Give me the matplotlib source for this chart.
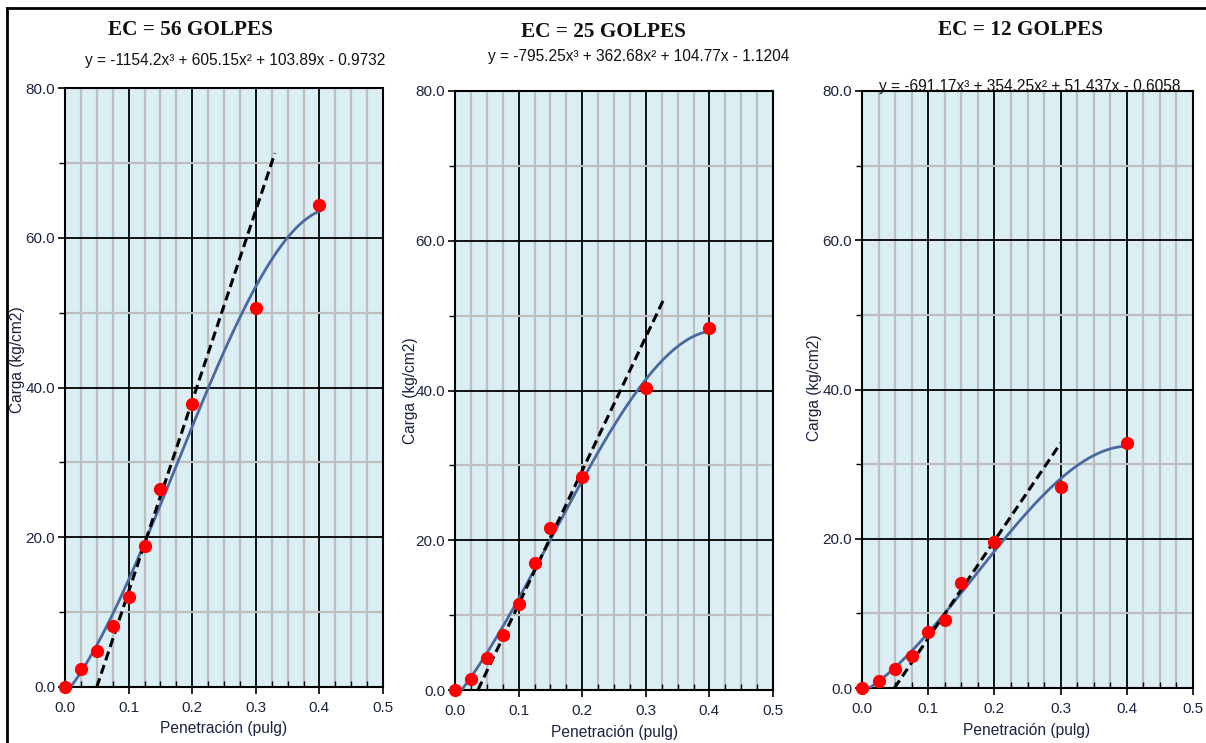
import numpy as np
import matplotlib
matplotlib.use('Agg')
import matplotlib.pyplot as plt
from matplotlib.lines import Line2D
from matplotlib.ticker import MultipleLocator, FormatStrFormatter

plt.rcParams['font.family'] = ['Liberation Sans', 'DejaVu Sans']

# datos de penetracion (pulg) y carga (kg/cm2)
pen = [0.0, 0.025, 0.05, 0.075, 0.1, 0.125, 0.15, 0.2, 0.3, 0.4]
carga_56 = [0.0, 2.4, 4.8, 8.1, 12.0, 18.8, 26.4, 37.8, 50.6, 64.4]
carga_25 = [0.0, 1.5, 4.3, 7.3, 11.5, 17.0, 21.6, 28.4, 40.3, 48.3]
carga_12 = [0.0, 0.9, 2.5, 4.3, 7.5, 9.1, 14.1, 19.6, 26.9, 32.8]

# coeficientes de la linea de tendencia (polinomio grado 3)
coef_56 = [-1154.2, 605.15, 103.89, -0.9732]
coef_25 = [-795.25, 362.68, 104.77, -1.1204]
coef_12 = [-691.17, 354.25, 51.437, -0.6058]

# recta de correccion (tangente)
tan_x_56 = [0.05, 0.33]; tan_y_56 = [0.0, 71.3]
tan_x_25 = [0.036, 0.33]; tan_y_25 = [0.0, 52.5]
tan_x_12 = [0.049, 0.30]; tan_y_12 = [0.0, 32.8]

titulos = ['EC = 56 GOLPES', 'EC = 25 GOLPES', 'EC = 12 GOLPES']
ecuaciones = ['y = -1154.2x³ + 605.15x² + 103.89x - 0.9732',
              'y = -795.25x³ + 362.68x² + 104.77x - 1.1204',
              'y = -691.17x³ + 354.25x² + 51.437x - 0.6058']

W, H = 1206, 743
fig = plt.figure(figsize=(W/100, H/100), dpi=100)

# posiciones en pixeles: left, right, top, bottom
cajas = [(65, 383, 88, 687), (455, 773, 91, 690), (862, 1193, 91, 688)]
tit_pos = [(190, 30), (603, 32), (1020, 30)]
eq_pos = [(235, 60), (639, 57), (1030, 87)]
xl_pos = [(224, 728), (615, 732), (1027, 730)]
yl_pos = [(18, 360), (410, 391), (814, 388)]

datos = [(carga_56, coef_56, tan_x_56, tan_y_56),
         (carga_25, coef_25, tan_x_25, tan_y_25),
         (carga_12, coef_12, tan_x_12, tan_y_12)]

txtcol = '#1c2340'
for i in range(3):
    l, r, t, b = cajas[i]
    ax = fig.add_axes([l/W, 1-b/H, (r-l)/W, (b-t)/H])
    ax.set_facecolor('#DAEEF3')
    carga, coef, tx, ty = datos[i]

    xx = np.linspace(0, 0.4, 200)
    ax.plot(xx, np.polyval(coef, xx), color='#4A69A0', lw=2, zorder=3)
    ax.plot(tx, ty, color='black', lw=2.2, ls=(0, (3, 1.6)), zorder=4)
    ax.plot(pen, carga, 'o', color='#FF0000', ms=8.5, zorder=5, clip_on=False)

    ax.set_xlim(0, 0.5)
    ax.set_ylim(0, 80)
    ax.xaxis.set_major_locator(MultipleLocator(0.1))
    ax.xaxis.set_minor_locator(MultipleLocator(0.025))
    ax.yaxis.set_major_locator(MultipleLocator(20))
    ax.yaxis.set_minor_locator(MultipleLocator(10))
    ax.xaxis.set_major_formatter(FormatStrFormatter('%.1f'))
    ax.yaxis.set_major_formatter(FormatStrFormatter('%.1f'))
    ax.grid(which='minor', color='#BEBEBE', lw=1.6)
    ax.grid(which='major', color='black', lw=1.3)
    ax.set_axisbelow(True)
    for s in ax.spines.values():
        s.set_linewidth(1.5)
    ax.tick_params(which='major', length=5, width=1.2, labelsize=11,
                   labelcolor=txtcol)
    ax.tick_params(axis='y', which='major', pad=2)
    ax.tick_params(axis='x', which='major', pad=5)
    ax.tick_params(axis='y', which='minor', length=4, width=1, direction='out')
    ax.tick_params(axis='x', which='minor', length=4, width=1, direction='in')

    fig.text(tit_pos[i][0]/W, 1-tit_pos[i][1]/H, titulos[i], ha='center', va='center',
             fontsize=15.3, fontweight='bold', family='Liberation Serif', color='#111111')
    fig.text(eq_pos[i][0]/W, 1-eq_pos[i][1]/H, ecuaciones[i], ha='center', va='center',
             fontsize=11.2, color='#111111')
    fig.text(xl_pos[i][0]/W, 1-xl_pos[i][1]/H, 'Penetración (pulg)', ha='center', va='center',
             fontsize=11.2, color=txtcol)
    fig.text(yl_pos[i][0]/W, 1-yl_pos[i][1]/H, 'Carga (kg/cm2)', ha='center', va='center',
             fontsize=11.2, color=txtcol, rotation=90)

# marco
fig.add_artist(Line2D([7/W, 1], [1-8/H, 1-8/H], color='black', lw=2))
fig.add_artist(Line2D([7/W, 7/W], [0, 1-8/H], color='black', lw=2))

fig.savefig('out.png', dpi=100)
